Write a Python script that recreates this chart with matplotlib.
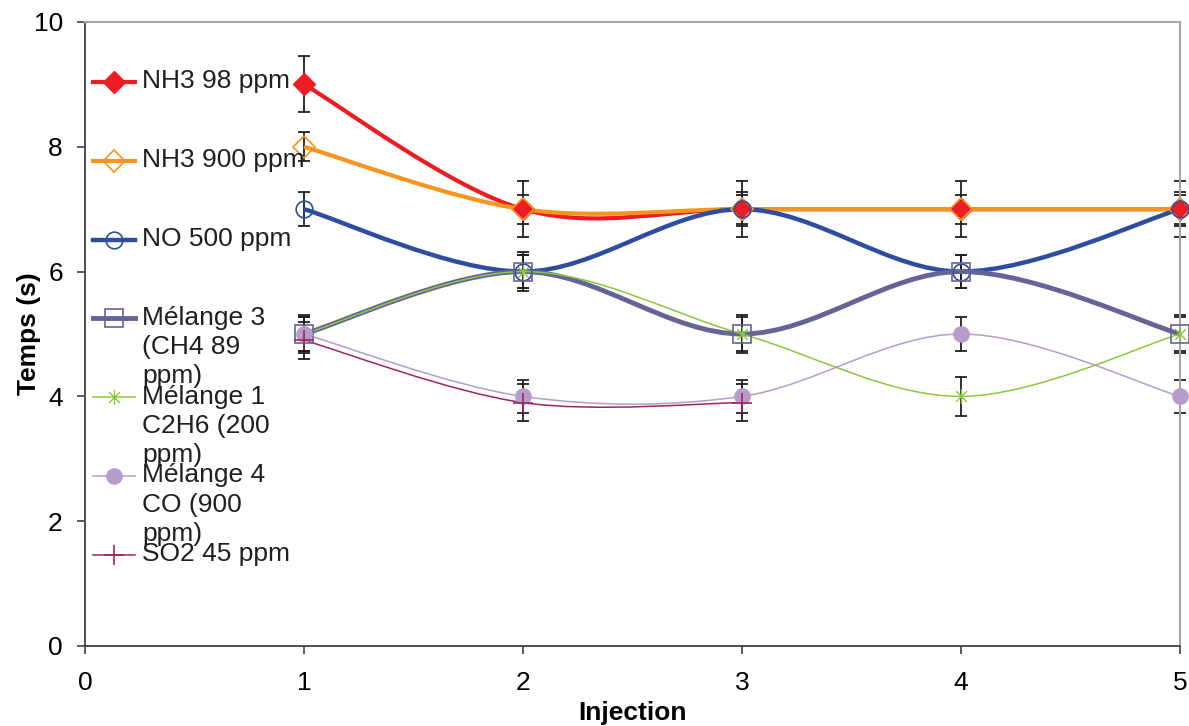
"""
Temps de réponse par injection pour plusieurs gaz (courbes lissées type Excel).
"""

import matplotlib
matplotlib.use('Agg')
import matplotlib.pyplot as plt
import numpy as np
from matplotlib.path import Path
from matplotlib.patches import PathPatch
from matplotlib.lines import Line2D

plt.rcParams['font.family'] = ['Liberation Sans', 'DejaVu Sans']

# --- data ---
injections = [1, 2, 3, 4, 5]
labels = [
    'NH3 98 ppm',
    'NH3 900 ppm',
    'NO 500 ppm',
    'Mélange 3\n(CH4 89\nppm)',
    'Mélange 1\nC2H6 (200\nppm)',
    'Mélange 4\nCO (900\nppm)',
    'SO2 45 ppm',
]
nh3_98 = [9, 7, 7, 7, 7]
nh3_900 = [8, 7, 7, 7, 7]
no_500 = [7, 6, 7, 6, 7]
melange_3 = [5, 6, 5, 6, 5]
melange_1 = [5, 6, 5, 4, 5]
melange_4 = [5, 4, 4, 5, 4]
so2_45 = [4.9, 3.9, 3.9]

err_nh3_98 = 0.45
err_nh3_900 = 0.23
err_no_500 = 0.27
err_melange_3 = 0.27
err_melange_1 = 0.31
err_melange_4 = 0.27
err_so2_45 = 0.3

# asterisk marker like Excel's star (X + vertical bar)
star = Path([(-0.7, -0.7), (0.7, 0.7), (-0.7, 0.7), (0.7, -0.7), (0, -1), (0, 1)],
            [Path.MOVETO, Path.LINETO, Path.MOVETO, Path.LINETO, Path.MOVETO, Path.LINETO])

# style per series: values, error, color, line width, marker kwargs
series = [
    (nh3_98, err_nh3_98, '#ED1C24', 3.0,
     dict(marker='D', ms=11, mfc='#ED1C24', mec='#ED1C24')),
    (nh3_900, err_nh3_900, '#F7941D', 3.0,
     dict(marker='D', ms=11, mfc='none', mec='#F7941D', mew=1.2)),
    (no_500, err_no_500, '#2E4DA0', 3.2,
     dict(marker='o', ms=12, mfc='none', mec='#2E4DA0', mew=1.2)),
    (melange_3, err_melange_3, '#646497', 3.5,
     dict(marker='s', ms=13, mfc='none', mec='#646497', mew=1.2)),
    (melange_1, err_melange_1, '#8DC63F', 1.1,
     dict(marker=star, ms=11, mfc='none', mec='#8DC63F', mew=1.0)),
    (melange_4, err_melange_4, '#B79BCB', 1.1,
     dict(marker='o', ms=11, mfc='#B79BCB', mec='#B79BCB')),
    (so2_45, err_so2_45, '#A0245E', 1.1,
     dict(marker='+', ms=14, mec='#A0245E', mew=1.2)),
]


def smooth_path(xs, ys):
    """Bezier path through the points (Excel 'smoothed line')."""
    pts = np.column_stack([xs, ys]).astype(float)
    n = len(pts)
    verts = [pts[0]]
    codes = [Path.MOVETO]
    for i in range(n - 1):
        p0 = pts[i - 1] if i > 0 else pts[i]
        p1 = pts[i]
        p2 = pts[i + 1]
        p3 = pts[i + 2] if i + 2 < n else pts[i + 1]
        c1 = p1 + (p2 - p0) / 6.0
        c2 = p2 - (p3 - p1) / 6.0
        verts += [c1, c2, p2]
        codes += [Path.CURVE4] * 3
    return Path(verts, codes)


fig = plt.figure(figsize=(11.89, 7.26), dpi=100)
ax = fig.add_axes([0.0715, 0.1102, 0.9209, 0.8595])

# error bars first (behind the markers)
for values, err, color, lw, mk in series:
    xs = injections[:len(values)]
    eb = ax.errorbar(xs, values, yerr=err, fmt='none', ecolor='#231F20',
                     elinewidth=1.3, capsize=4, capthick=1.3, zorder=2)
    for art in eb.lines[1] + eb.lines[2]:
        art.set_clip_on(False)

for values, err, color, lw, mk in series:
    xs = injections[:len(values)]
    ax.add_patch(PathPatch(smooth_path(xs, values), facecolor='none',
                           edgecolor=color, lw=lw, zorder=3, clip_on=False))
    ax.plot(xs, values, linestyle='none', zorder=4, clip_on=False, **mk)

ax.set_xlim(0, 5)
ax.set_ylim(0, 10)
ax.set_xticks(range(0, 6))
ax.set_yticks(range(0, 11, 2))
ax.tick_params(axis='both', direction='out', length=6, width=1.2,
               color='#404040', labelsize=19, pad=10)
ax.tick_params(axis='x', pad=12)
ax.set_xlabel('Injection', fontsize=19, fontweight='bold', labelpad=4)
ax.set_ylabel('Temps (s)', fontsize=19, fontweight='bold')
ax.yaxis.set_label_coords(-0.040, 0.5)

for side in ['left', 'bottom']:
    ax.spines[side].set_color('#404040')
    ax.spines[side].set_linewidth(1.3)
for side in ['top', 'right']:
    ax.spines[side].set_color('#A6A6A6')
    ax.spines[side].set_linewidth(1.5)

# legend drawn by hand, Excel style (labels overflow onto the next entry)
leg_y0 = 0.904
leg_step = 0.1263
for k, (values, err, color, lw, mk) in enumerate(series):
    yc = leg_y0 - k * leg_step
    ax.add_line(Line2D([0.0073, 0.0457], [yc, yc], transform=ax.transAxes,
                       color=color, lw=lw, zorder=5))
    ax.add_line(Line2D([0.0265], [yc], transform=ax.transAxes,
                       linestyle='none', zorder=6, **mk))
    ax.annotate(labels[k], xy=(0.052, yc), xycoords='axes fraction',
                xytext=(0, 9), textcoords='offset points', va='top', ha='left',
                fontsize=19, color='#231F20', linespacing=1.28, zorder=6)

fig.savefig('out.png', dpi=100)
